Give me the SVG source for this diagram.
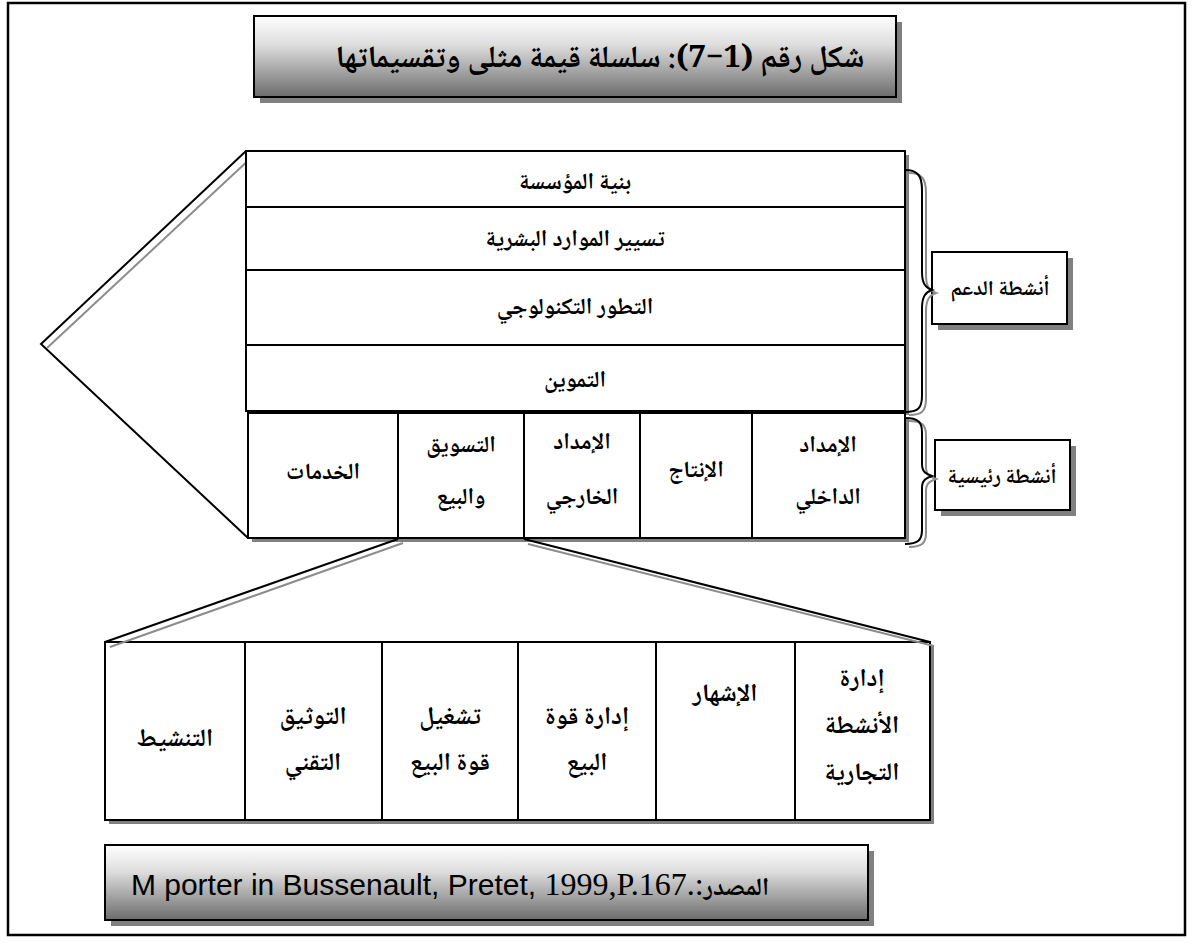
<svg xmlns="http://www.w3.org/2000/svg" width="1193" height="944" viewBox="0 0 1193 944">
  <defs>
    <linearGradient id="shade" x1="0" y1="0" x2="0" y2="1">
      <stop offset="0" stop-color="#ffffff"/>
      <stop offset="0.35" stop-color="#dedede"/>
      <stop offset="1" stop-color="#6c6c6c"/>
    </linearGradient>
  </defs>
  <style>
    .box { fill: #ffffff; stroke: #000000; stroke-width: 2; }
    .shadow { fill: #808080; }
    .grad { fill: url(#shade); stroke: #000000; stroke-width: 2; }
    .ln { fill: none; stroke: #000000; stroke-width: 2; }
    .lg { fill: none; stroke: #8c8c8c; stroke-width: 2; }
    .ar { font-family: "Noto Naskh Arabic", "Noto Sans Arabic", "DejaVu Sans", sans-serif; font-weight: bold; fill: #000000; text-anchor: middle; direction: rtl; }
    .lbl { font-size: 23px; }
    .sub { font-size: 25px; }
    .tag { font-size: 21px; }
    .big { font-size: 31px; }
  </style>

  <!-- outer frame -->
  <rect x="8" y="3" width="1177" height="932" fill="#ffffff" stroke="#000000" stroke-width="2.5"/>

  <!-- caption -->
  <g id="title">
    <rect class="shadow" x="260" y="22" width="642" height="81"/>
    <rect class="grad" x="254" y="16" width="642" height="81"/>
    <text class="ar big" x="600" y="67">شكل رقم (1−7): سلسلة قيمة مثلى وتقسيماتها</text>
  </g>

  <!-- value chain arrow head (left point) -->
  <g id="chain-head">
    <polyline class="ln" points="246,151 41,344 248,538"/>
    <line class="lg" x1="253" y1="156" x2="47" y2="348"/>
  </g>

  <!-- support activities -->
  <g id="support-1">
    <rect class="shadow" x="250" y="155" width="659" height="56"/>
    <rect class="box" x="246" y="151" width="659" height="56"/>
    <text class="ar lbl" x="575" y="189">بنية المؤسسة</text>
  </g>
  <g id="support-2">
    <rect class="shadow" x="250" y="211" width="659" height="63"/>
    <rect class="box" x="246" y="207" width="659" height="63"/>
    <text class="ar lbl" x="575" y="246">تسيير الموارد البشرية</text>
  </g>
  <g id="support-3">
    <rect class="shadow" x="250" y="274" width="659" height="75"/>
    <rect class="box" x="246" y="270" width="659" height="75"/>
    <text class="ar lbl" x="575" y="314">التطور التكنولوجي</text>
  </g>
  <g id="support-4">
    <rect class="shadow" x="250" y="349" width="659" height="66"/>
    <rect class="box" x="246" y="345" width="659" height="66"/>
    <text class="ar lbl" x="575" y="387">التموين</text>
  </g>

  <!-- primary activities -->
  <g id="primary-services">
    <rect class="shadow" x="252" y="417" width="150" height="125"/>
    <rect class="box" x="248" y="413" width="150" height="125"/>
    <text class="ar lbl" x="323" y="479">الخدمات</text>
  </g>
  <g id="primary-marketing">
    <rect class="shadow" x="402" y="417" width="126" height="125"/>
    <rect class="box" x="398" y="413" width="126" height="125"/>
    <text class="ar lbl" x="461" y="452">التسويق</text>
    <text class="ar lbl" x="461" y="504">والبيع</text>
  </g>
  <g id="primary-outbound">
    <rect class="shadow" x="528" y="417" width="116" height="125"/>
    <rect class="box" x="524" y="413" width="116" height="125"/>
    <text class="ar lbl" x="582" y="449">الإمداد</text>
    <text class="ar lbl" x="582" y="504">الخارجي</text>
  </g>
  <g id="primary-operations">
    <rect class="shadow" x="644" y="417" width="112" height="125"/>
    <rect class="box" x="640" y="413" width="112" height="125"/>
    <text class="ar lbl" x="696" y="477">الإنتاج</text>
  </g>
  <g id="primary-inbound">
    <rect class="shadow" x="756" y="417" width="153" height="125"/>
    <rect class="box" x="752" y="413" width="153" height="125"/>
    <text class="ar lbl" x="828" y="452">الإمداد</text>
    <text class="ar lbl" x="828" y="504">الداخلي</text>
  </g>

  <!-- group labels -->
  <g id="label-support">
    <rect class="shadow" x="938" y="258" width="135" height="72"/>
    <rect class="box" x="932" y="252" width="135" height="72"/>
    <text class="ar tag" x="1000" y="295">أنشطة الدعم</text>
  </g>
  <g id="label-primary">
    <rect class="shadow" x="941" y="446" width="135" height="70"/>
    <rect class="box" x="935" y="440" width="135" height="70"/>
    <text class="ar tag" x="1002" y="483">أنشطة رئيسية</text>
  </g>

  <!-- breakdown of marketing and sales -->
  <g id="sub-promotion">
    <rect class="shadow" x="109" y="646" width="140" height="178"/>
    <rect class="box" x="105" y="642" width="140" height="178"/>
    <text class="ar sub" x="175" y="746">التنشيط</text>
  </g>
  <g id="sub-documentation">
    <rect class="shadow" x="249" y="646" width="137" height="178"/>
    <rect class="box" x="245" y="642" width="137" height="178"/>
    <text class="ar sub" x="313" y="724">التوثيق</text>
    <text class="ar sub" x="313" y="770">التقني</text>
  </g>
  <g id="sub-operation">
    <rect class="shadow" x="386" y="646" width="136" height="178"/>
    <rect class="box" x="382" y="642" width="136" height="178"/>
    <text class="ar sub" x="450" y="724">تشغيل</text>
    <text class="ar sub" x="450" y="770">قوة البيع</text>
  </g>
  <g id="sub-salesforce">
    <rect class="shadow" x="522" y="646" width="138" height="178"/>
    <rect class="box" x="518" y="642" width="138" height="178"/>
    <text class="ar sub" x="587" y="724">إدارة قوة</text>
    <text class="ar sub" x="587" y="770">البيع</text>
  </g>
  <g id="sub-advertising">
    <rect class="shadow" x="660" y="646" width="139" height="178"/>
    <rect class="box" x="656" y="642" width="139" height="178"/>
    <text class="ar sub" x="725" y="701">الإشهار</text>
  </g>
  <g id="sub-commercial">
    <rect class="shadow" x="799" y="646" width="135" height="178"/>
    <rect class="box" x="795" y="642" width="135" height="178"/>
    <text class="ar sub" x="862" y="686">إدارة</text>
    <text class="ar sub" x="862" y="733">الأنشطة</text>
    <text class="ar sub" x="862" y="780">التجارية</text>
  </g>

  <!-- connectors: braces and expansion lines -->
  <g id="connectors">
    <path class="lg" d="M909,173 C922,173 926,179 926,193 L926,275 C926,287 930,291 936,293 C930,295 926,299 926,311 L926,399 C926,411 922,415 909,415"/>
    <path class="ln" d="M905,170 C918,170 922,176 922,190 L922,272 C922,284 926,288 932,290 C926,292 922,296 922,308 L922,396 C922,408 918,412 905,412"/>
    <path class="lg" d="M909,421 C922,421 926,425 926,435 L926,467 C926,475 930,477 936,479 C930,481 926,483 926,491 L926,533 C926,543 922,547 909,547"/>
    <path class="ln" d="M905,418 C918,418 922,422 922,432 L922,464 C922,472 926,474 932,476 C926,478 922,480 922,488 L922,530 C922,540 918,544 905,544"/>
    <line class="lg" x1="403" y1="543" x2="110" y2="647"/>
    <line class="ln" x1="398" y1="539" x2="105" y2="642"/>
    <line class="lg" x1="528" y1="544" x2="934" y2="646"/>
    <line class="ln" x1="524" y1="539" x2="930" y2="642"/>
  </g>

  <!-- source note -->
  <g id="source">
    <rect class="shadow" x="111" y="851" width="763" height="75"/>
    <rect class="grad" x="105" y="845" width="763" height="75"/>
    <text x="450" y="895" font-size="30" text-anchor="middle" direction="ltr" fill="#000000"><tspan font-family="'Liberation Sans', Arial, sans-serif">M porter in Bussenault, Pretet, </tspan><tspan font-family="'Liberation Serif', 'Times New Roman', serif" font-size="32">1999,P.167.:</tspan><tspan font-family="'Noto Naskh Arabic', 'DejaVu Sans', sans-serif" font-weight="bold" font-size="25">المصدر</tspan></text>
  </g>
</svg>
